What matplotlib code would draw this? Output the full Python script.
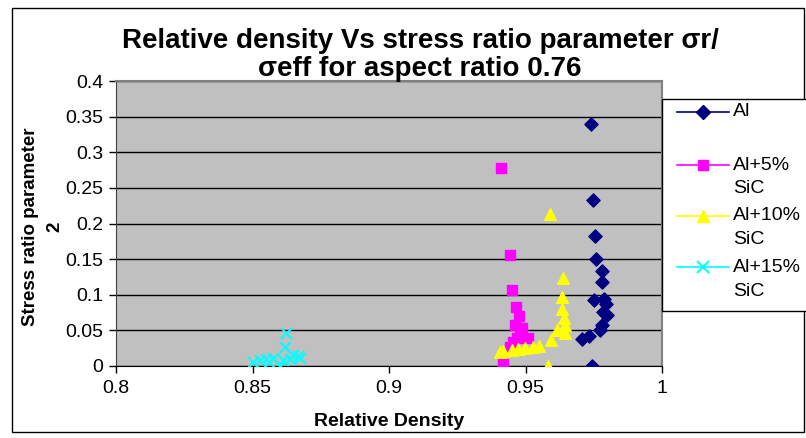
import matplotlib.pyplot as plt
from matplotlib.lines import Line2D
from matplotlib.patches import Rectangle

plt.rcParams['font.family'] = ['Liberation Sans', 'DejaVu Sans']

# Al
al_x = [0.974, 0.9747, 0.9753, 0.976, 0.9781, 0.978, 0.9752, 0.9789, 0.9795,
        0.9785, 0.980, 0.978, 0.9773, 0.9734, 0.9706, 0.9745]
al_y = [0.339, 0.2326, 0.183, 0.1497, 0.1338, 0.1175, 0.0922, 0.094, 0.087,
        0.076, 0.0716, 0.0575, 0.0505, 0.0425, 0.0374, 0.0004]

# Al+5% SiC
al5_x = [0.9411, 0.9444, 0.9452, 0.9466, 0.9477, 0.9462, 0.9488, 0.947, 0.951,
         0.9443, 0.9418, 0.9455, 0.9480]
al5_y = [0.2775, 0.1558, 0.1067, 0.0833, 0.0702, 0.0575, 0.0529, 0.040, 0.040,
         0.027, 0.0024, 0.033, 0.047]

# Al+10% SiC
al10_x = [0.9591, 0.9638, 0.9632, 0.9632, 0.9642, 0.9646, 0.9614, 0.9645, 0.9592,
          0.955, 0.9526, 0.9498, 0.9474, 0.945, 0.9419, 0.9407, 0.9584]
al10_y = [0.2133, 0.123, 0.0973, 0.080, 0.067, 0.0575, 0.0505, 0.0468, 0.0365,
          0.0285, 0.026, 0.0248, 0.0234, 0.0225, 0.0215, 0.020, 0.0]

# Al+15% SiC
al15_x = [0.8623, 0.8619, 0.865, 0.8674, 0.860, 0.8503, 0.8527, 0.855, 0.8576,
          0.8613, 0.8637, 0.8665, 0.8560]
al15_y = [0.0467, 0.027, 0.0154, 0.0108, 0.0, 0.006, 0.0084, 0.0094, 0.0108,
          0.0084, 0.0094, 0.014, 0.006]

W, H = 806, 438
def fx(px):
    return px / W
def fy(py):
    return 1 - py / H

fig = plt.figure(figsize=(W / 100, H / 100), dpi=100)
fig.patches.append(Rectangle((fx(12), fy(432)), fx(792), 424 / H, transform=fig.transFigure,
                             fill=False, edgecolor='black', linewidth=1))
ax = fig.add_axes([fx(116), fy(366), fx(546), 285 / H])
ax.set_facecolor('#C0C0C0')

ax.scatter(al_x, al_y, marker='D', s=45, color='#000080', zorder=3)
ax.scatter(al5_x, al5_y, marker='s', s=50, color='#FF00FF', zorder=3)
ax.scatter(al10_x, al10_y, marker='^', s=70, color='#FFFF00', zorder=3)
ax.scatter(al15_x, al15_y, marker='x', s=60, color='#00FFFF', linewidths=1.5, zorder=3)

ax.set_xlim(0.8, 1.0)
ax.set_ylim(0, 0.4)
ax.set_xticks([0.8, 0.85, 0.9, 0.95, 1.0])
ax.set_xticklabels(['0.8', '0.85', '0.9', '0.95', '1'])
ax.set_yticks([0, 0.05, 0.1, 0.15, 0.2, 0.25, 0.3, 0.35, 0.4])
ax.set_yticklabels(['0', '0.05', '0.1', '0.15', '0.2', '0.25', '0.3', '0.35', '0.4'])
ax.yaxis.grid(True, color='black', linewidth=1)
ax.set_axisbelow(True)
ax.tick_params(direction='out', length=5, labelsize=14, width=1)
ax.tick_params(axis='x', pad=5)
ax.tick_params(axis='y', pad=4)
for side in ['top', 'right']:
    ax.spines[side].set_color('#808080')
    ax.spines[side].set_linewidth(1.5)
ax.spines['left'].set_color('#404040')

ax.set_xlabel('Relative Density', fontsize=14, fontweight='bold')
ax.xaxis.set_label_coords(0.5, -0.165)
ax.set_ylabel('Stress ratio parameter\n2', fontsize=13.5, fontweight='bold', linespacing=1.5)
ax.yaxis.set_label_coords((63 - 116) / 546, 0.49)
fig.text(fx(420), fy(55), 'Relative density Vs stress ratio parameter σr/\nσeff for aspect ratio 0.76',
         ha='center', va='center', fontsize=20, fontweight='bold', linespacing=1.15)

# legend drawn by hand to match the boxed layout
fig.patches.append(Rectangle((fx(662), fy(311)), fx(150), 212 / H, transform=fig.transFigure,
                             facecolor='white', edgecolor='black', linewidth=1, zorder=2))
handles = [
    dict(color='#000080', marker='D', markersize=7, mew=1),
    dict(color='#FF00FF', marker='s', markersize=7, mew=1),
    dict(color='#FFFF00', marker='^', markersize=9, mew=1),
    dict(color='#00FFFF', marker='x', markersize=9, mew=1.5),
]
labels = [['Al'], ['Al+5%', 'SiC'], ['Al+10%', 'SiC'], ['Al+15%', 'SiC']]
rows = [112, 165, 216, 267]
for h, lab, row in zip(handles, labels, rows):
    ln = Line2D([fx(677), fx(729)], [fy(row), fy(row)], transform=fig.transFigure,
                color=h['color'], linewidth=1.2, zorder=3)
    fig.add_artist(ln)
    mk = Line2D([fx(703)], [fy(row)], transform=fig.transFigure, color=h['color'],
                marker=h['marker'], markersize=h['markersize'], markeredgewidth=h['mew'],
                linestyle='none', zorder=4)
    fig.add_artist(mk)
    for i, part in enumerate(lab):
        fig.text(fx(733), fy(row + 24 * i), part, ha='left', va='center', fontsize=14,
                 zorder=4)

fig.savefig('out.png', dpi=100)
